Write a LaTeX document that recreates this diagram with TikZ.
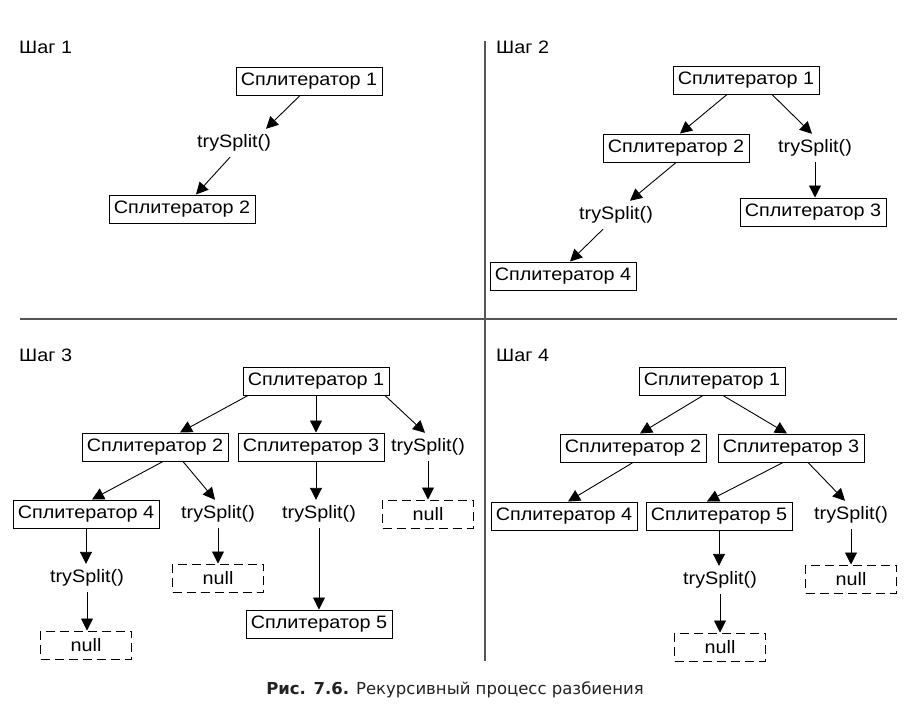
\documentclass[tikz,border=0pt]{standalone}
\usepackage{fontspec}
\setmainfont[FakeStretch=1.1]{Liberation Sans}
\newfontfamily\capfont{DejaVu Sans}
\usetikzlibrary{arrows.meta}
\definecolor{divgray}{HTML}{555555}
\definecolor{capcol}{HTML}{222222}
\tikzset{
  box/.style={draw, line width=1pt, minimum width=146pt, minimum height=28pt, inner sep=0pt, font=\fontsize{18}{21}\selectfont},
  nullbox/.style={draw, line width=1pt, dash pattern=on 9pt off 5pt, minimum width=91pt, minimum height=28pt, inner sep=0pt, font=\fontsize{18}{21}\selectfont},
  call/.style={minimum height=28pt, inner sep=0pt, font=\fontsize{18}{21}\selectfont},
  steplabel/.style={anchor=west, inner sep=0pt, font=\fontsize{18}{21}\selectfont},
  arr/.style={line width=0.9pt, -{Triangle[length=12pt,width=12pt]}},
  divider/.style={draw=divgray, line width=1.6pt}
}
\begin{document}
\begin{tikzpicture}[x=1pt,y=-1pt]
\useasboundingbox (0,0) rectangle (912,718);
% dividers
\draw[divider] (485,41) -- (485,661);
\draw[divider] (20,319) -- (897,319);

% ---------- Step 1
\node[steplabel] (l1) at (19,47) {Шаг 1};
\node[box] (a1) at (309,81) {Сплитератор 1};
\node[call] (t1) at (234,143) {trySplit()};
\node[box] (a2) at (182,209) {Сплитератор 2};
\draw[arr] ([xshift=-9pt]a1.south) -- ([xshift=32pt]t1.north);
\draw[arr] ([xshift=-4pt]t1.south) -- ([xshift=14pt]a2.north);

% ---------- Step 2
\node[steplabel] (l2) at (496,47) {Шаг 2};
\node[box] (b1) at (746,80) {Сплитератор 1};
\node[box] (b2) at (676,148) {Сплитератор 2};
\node[call] (tb1) at (815,148) {trySplit()};
\node[box] (b3) at (813,212) {Сплитератор 3};
\node[call] (tb2) at (616,215) {trySplit()};
\node[box] (b4) at (563,276) {Сплитератор 4};
\draw[arr] ([xshift=-19pt]b1.south) -- ([xshift=4pt]b2.north);
\draw[arr] ([xshift=26pt]b1.south) -- ([xshift=-3pt]tb1.north);
\draw[arr] (tb1.south) -- (tb1.south |- b3.north);
\draw[arr] (b2.south) -- ([xshift=14pt]tb2.north);
\draw[arr] ([xshift=-13pt]tb2.south) -- ([xshift=7pt]b4.north);

% ---------- Step 3
\node[steplabel] (l3) at (19,355) {Шаг 3};
\node[box] (c1) at (316,381) {Сплитератор 1};
\node[box] (c2) at (155,447) {Сплитератор 2};
\node[box] (c3) at (311,447) {Сплитератор 3};
\node[call] (tc1) at (428,447) {trySplit()};
\node[box] (c4) at (86,514) {Сплитератор 4};
\node[call] (tc2) at (218,514) {trySplit()};
\node[call] (tc3) at (319,514) {trySplit()};
\node[nullbox] (nc1) at (428,514) {null};
\node[call] (tc4) at (87,578) {trySplit()};
\node[nullbox] (nc2) at (218,578) {null};
\node[box] (c5) at (319,624) {Сплитератор 5};
\node[nullbox] (nc3) at (86,645) {null};
\draw[arr] ([xshift=-68pt]c1.south) -- ([xshift=25pt]c2.north);
\draw[arr] (c1.south) -- (c1.south |- c3.north);
\draw[arr] ([xshift=69pt]c1.south) -- ([xshift=-3pt]tc1.north);
\draw[arr] ([xshift=8pt]c2.south) -- ([xshift=6pt]c4.north);
\draw[arr] ([xshift=28pt]c2.south) -- ([xshift=-3pt]tc2.north);
\draw[arr] ([xshift=5pt]c3.south) -- ([xshift=-3pt]tc3.north);
\draw[arr] (tc3.south) -- (tc3.south |- c5.north);
\draw[arr] (tc1.south) -- (tc1.south |- nc1.north);
\draw[arr] (c4.south) -- (c4.south |- tc4.north);
\draw[arr] (tc4.south) -- (tc4.south |- nc3.north);
\draw[arr] (tc2.south) -- (tc2.south |- nc2.north);

% ---------- Step 4
\node[steplabel] (l4) at (496,355) {Шаг 4};
\node[box] (d1) at (712,381) {Сплитератор 1};
\node[box] (d2) at (633,448) {Сплитератор 2};
\node[box] (d3) at (791,448) {Сплитератор 3};
\node[box] (d4) at (564,516) {Сплитератор 4};
\node[box] (d5) at (719,516) {Сплитератор 5};
\node[call] (td1) at (851,515) {trySplit()};
\node[nullbox] (nd1) at (851,579) {null};
\node[call] (td2) at (720,580) {trySplit()};
\node[nullbox] (nd2) at (720,647) {null};
\draw[arr] ([xshift=-9pt]d1.south) -- ([xshift=7pt]d2.north);
\draw[arr] ([xshift=11pt]d1.south) -- ([xshift=-4pt]d3.north);
\draw[arr] (d2.south) -- ([xshift=4pt]d4.north);
\draw[arr] ([xshift=-8pt]d3.south) -- ([xshift=-12pt]d5.north);
\draw[arr] ([xshift=17pt]d3.south) -- ([xshift=-6pt]td1.north);
\draw[arr] (d5.south) -- (d5.south |- td2.north);
\draw[arr] (td2.south) -- (td2.south |- nd2.north);
\draw[arr] (td1.south) -- (td1.south |- nd1.north);

% ---------- caption
\node[text=capcol, inner sep=0pt, font=\capfont\fontsize{16.5}{19}\selectfont] (cap) at (455,690)
  {\textbf{Рис. 7.6.} Рекурсивный процесс разбиения};
\end{tikzpicture}
\end{document}
